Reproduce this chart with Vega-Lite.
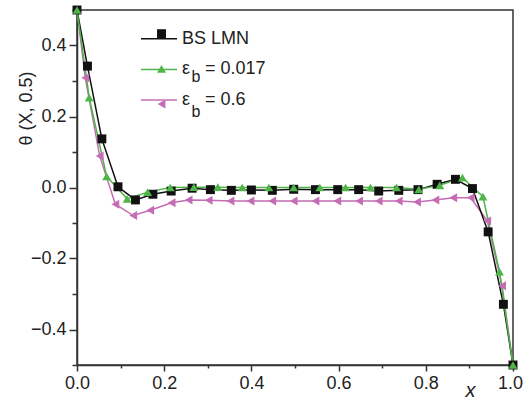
{
  "$schema": "https://vega.github.io/schema/vega-lite/v6.json",
  "width": 436,
  "height": 355,
  "autosize": "none",
  "padding": {"left": 77, "top": 10, "right": 10, "bottom": 34},
  "config": {
    "view": {"stroke": "#333", "strokeWidth": 1.5},
    "font": "Liberation Sans"
  },
  "data": {"values": [
    {"series": "εb = 0.6", "x": 0, "y": 0.5},
    {"series": "εb = 0.6", "x": 0.019, "y": 0.309},
    {"series": "εb = 0.6", "x": 0.052, "y": 0.089},
    {"series": "εb = 0.6", "x": 0.088, "y": -0.047},
    {"series": "εb = 0.6", "x": 0.129, "y": -0.079},
    {"series": "εb = 0.6", "x": 0.168, "y": -0.064},
    {"series": "εb = 0.6", "x": 0.217, "y": -0.043},
    {"series": "εb = 0.6", "x": 0.256, "y": -0.035},
    {"series": "εb = 0.6", "x": 0.302, "y": -0.036},
    {"series": "εb = 0.6", "x": 0.352, "y": -0.038},
    {"series": "εb = 0.6", "x": 0.398, "y": -0.038},
    {"series": "εb = 0.6", "x": 0.448, "y": -0.038},
    {"series": "εb = 0.6", "x": 0.497, "y": -0.038},
    {"series": "εb = 0.6", "x": 0.547, "y": -0.038},
    {"series": "εb = 0.6", "x": 0.597, "y": -0.038},
    {"series": "εb = 0.6", "x": 0.647, "y": -0.038},
    {"series": "εb = 0.6", "x": 0.692, "y": -0.038},
    {"series": "εb = 0.6", "x": 0.738, "y": -0.038},
    {"series": "εb = 0.6", "x": 0.780, "y": -0.041},
    {"series": "εb = 0.6", "x": 0.822, "y": -0.035},
    {"series": "εb = 0.6", "x": 0.863, "y": -0.029},
    {"series": "εb = 0.6", "x": 0.903, "y": -0.029},
    {"series": "εb = 0.6", "x": 0.941, "y": -0.094},
    {"series": "εb = 0.6", "x": 0.975, "y": -0.277},
    {"series": "εb = 0.6", "x": 1.0, "y": -0.5},
    {"series": "BS LMN", "x": 0, "y": 0.5},
    {"series": "BS LMN", "x": 0.024, "y": 0.342},
    {"series": "BS LMN", "x": 0.057, "y": 0.137},
    {"series": "BS LMN", "x": 0.094, "y": 0.002},
    {"series": "BS LMN", "x": 0.134, "y": -0.035},
    {"series": "BS LMN", "x": 0.174, "y": -0.019},
    {"series": "BS LMN", "x": 0.216, "y": -0.010},
    {"series": "BS LMN", "x": 0.264, "y": -0.002},
    {"series": "BS LMN", "x": 0.306, "y": -0.006},
    {"series": "BS LMN", "x": 0.354, "y": -0.008},
    {"series": "BS LMN", "x": 0.400, "y": -0.007},
    {"series": "BS LMN", "x": 0.448, "y": -0.008},
    {"series": "BS LMN", "x": 0.497, "y": -0.005},
    {"series": "BS LMN", "x": 0.547, "y": -0.006},
    {"series": "BS LMN", "x": 0.598, "y": -0.006},
    {"series": "BS LMN", "x": 0.646, "y": -0.006},
    {"series": "BS LMN", "x": 0.692, "y": -0.010},
    {"series": "BS LMN", "x": 0.738, "y": -0.008},
    {"series": "BS LMN", "x": 0.782, "y": -0.006},
    {"series": "BS LMN", "x": 0.826, "y": 0.009},
    {"series": "BS LMN", "x": 0.868, "y": 0.023},
    {"series": "BS LMN", "x": 0.907, "y": -0.003},
    {"series": "BS LMN", "x": 0.943, "y": -0.125},
    {"series": "BS LMN", "x": 0.978, "y": -0.329},
    {"series": "BS LMN", "x": 1.0, "y": -0.5},
    {"series": "εb = 0.017", "x": 0, "y": 0.5},
    {"series": "εb = 0.017", "x": 0.028, "y": 0.253},
    {"series": "εb = 0.017", "x": 0.068, "y": 0.031},
    {"series": "εb = 0.017", "x": 0.115, "y": -0.032},
    {"series": "εb = 0.017", "x": 0.162, "y": -0.013},
    {"series": "εb = 0.017", "x": 0.214, "y": 0.0},
    {"series": "εb = 0.017", "x": 0.268, "y": 0.001},
    {"series": "εb = 0.017", "x": 0.323, "y": 0.001},
    {"series": "εb = 0.017", "x": 0.379, "y": 0.0},
    {"series": "εb = 0.017", "x": 0.440, "y": 0.0},
    {"series": "εb = 0.017", "x": 0.497, "y": 0.0},
    {"series": "εb = 0.017", "x": 0.557, "y": 0.0},
    {"series": "εb = 0.017", "x": 0.616, "y": 0.0},
    {"series": "εb = 0.017", "x": 0.673, "y": 0.0},
    {"series": "εb = 0.017", "x": 0.733, "y": 0.0},
    {"series": "εb = 0.017", "x": 0.784, "y": -0.005},
    {"series": "εb = 0.017", "x": 0.832, "y": 0.006},
    {"series": "εb = 0.017", "x": 0.884, "y": 0.028},
    {"series": "εb = 0.017", "x": 0.931, "y": -0.026},
    {"series": "εb = 0.017", "x": 0.969, "y": -0.237},
    {"series": "εb = 0.017", "x": 1.0, "y": -0.5}
  ]},
  "encoding": {
    "x": {
      "field": "x", "type": "quantitative",
      "scale": {"domain": [0, 1], "nice": false, "zero": false},
      "axis": {
        "values": [0, 0.1, 0.2, 0.3, 0.4, 0.5, 0.6, 0.7, 0.8, 0.9, 1.0],
        "format": ".1f",
        "labelExpr": "round(datum.value*10)%2==0 ? datum.label : ''",
        "tickSize": {"condition": {"test": "round(datum.value*10)%2==0", "value": 6}, "value": 3},
        "labelOffset": {"condition": {"test": "datum.value > 0.95", "value": -3}, "value": 0},
        "grid": false,
        "domainColor": "#333", "domainWidth": 1.5,
        "tickColor": "#333", "tickWidth": 1.5,
        "labelFont": "Liberation Sans", "labelFontSize": 18, "labelColor": "#222",
        "labelPadding": 3, "labelFlush": false, "labelOverlap": false,
        "title": "x", "titleFont": "Liberation Sans", "titleFontSize": 20,
        "titleFontStyle": "italic", "titleFontWeight": "normal", "titleColor": "#222",
        "titleX": 393, "titleY": 31, "titleAlign": "center", "titleBaseline": "alphabetic"
      }
    },
    "y": {
      "field": "y", "type": "quantitative",
      "scale": {"domain": [-0.5, 0.5], "nice": false, "zero": false},
      "axis": {
        "values": [-0.5, -0.4, -0.3, -0.2, -0.1, 0, 0.1, 0.2, 0.3, 0.4, 0.5],
        "format": ".1f",
        "labelExpr": "round(datum.value*10)%2==0 ? datum.label : ''",
        "tickSize": {"condition": {"test": "round(datum.value*10)%2==0", "value": 8}, "value": 5},
        "grid": false,
        "domainColor": "#333", "domainWidth": 1.5,
        "tickColor": "#333", "tickWidth": 1.5,
        "labelFont": "Liberation Sans", "labelFontSize": 18, "labelColor": "#222",
        "labelPadding": 3, "labelFlush": false, "labelOverlap": false,
        "title": "θ (X, 0.5)", "titleFont": "Liberation Sans", "titleFontSize": 18,
        "titleFontWeight": "normal", "titleColor": "#222",
        "titleX": -51, "titleY": 98, "titleAngle": -90, "titleAlign": "center", "titleBaseline": "middle"
      }
    }
  },
  "layer": [
    {
      "mark": {"type": "line", "strokeWidth": 1.5},
      "encoding": {
        "detail": {"field": "series"},
        "stroke": {
          "field": "series", "type": "nominal",
          "scale": {"domain": ["BS LMN", "εb = 0.017", "εb = 0.6"], "range": ["#111111", "#4fb548", "#c46cb4"]},
          "legend": {
            "orient": "none", "legendX": 63, "legendY": 9.7, "title": null,
            "symbolType": "stroke", "symbolSize": 1296, "symbolStrokeWidth": 1.5,
            "labelFont": "Liberation Sans", "labelFontSize": 18, "labelColor": "#222",
            "labelOffset": 4, "rowPadding": 2.7, "padding": 0, "gridAlign": "all",
            "labelExpr": "datum.label == 'BS LMN' ? 'BS LMN' : replace(datum.label, 'εb', 'ε\u00a0\u00a0')"
          }
        }
      }
    },
    {
      "mark": {"type": "point", "filled": true, "size": 80, "opacity": 1, "strokeWidth": 0},
      "encoding": {
        "fill": {
          "field": "series", "type": "nominal",
          "scale": {"domain": ["BS LMN", "εb = 0.017", "εb = 0.6"], "range": ["#111111", "#4fb548", "#c46cb4"]},
          "legend": {
            "orient": "none", "legendX": 76.5, "legendY": 15.7, "title": null,
            "symbolSize": 80, "symbolStrokeWidth": 0,
            "labelFont": "Liberation Sans", "labelFontSize": 16, "labelColor": "#222",
            "labelOffset": 22, "rowPadding": 11.2, "padding": 0, "gridAlign": "all",
            "labelBaseline": "top",
            "labelExpr": "datum.label == 'BS LMN' ? '' : 'b'"
          }
        },
        "shape": {
          "field": "series", "type": "nominal",
          "scale": {"domain": ["BS LMN", "εb = 0.017", "εb = 0.6"], "range": ["square", "triangle-up", "triangle-left"]},
          "legend": {
            "orient": "none", "legendX": 76.5, "legendY": 15.7, "title": null,
            "symbolSize": 80, "symbolStrokeWidth": 0,
            "labelFont": "Liberation Sans", "labelFontSize": 16, "labelColor": "#222",
            "labelOffset": 22, "rowPadding": 11.2, "padding": 0, "gridAlign": "all",
            "labelBaseline": "top",
            "labelExpr": "datum.label == 'BS LMN' ? '' : 'b'"
          }
        }
      }
    }
  ],
  "resolve": {"legend": {"stroke": "independent", "fill": "independent", "shape": "independent"}}
}
